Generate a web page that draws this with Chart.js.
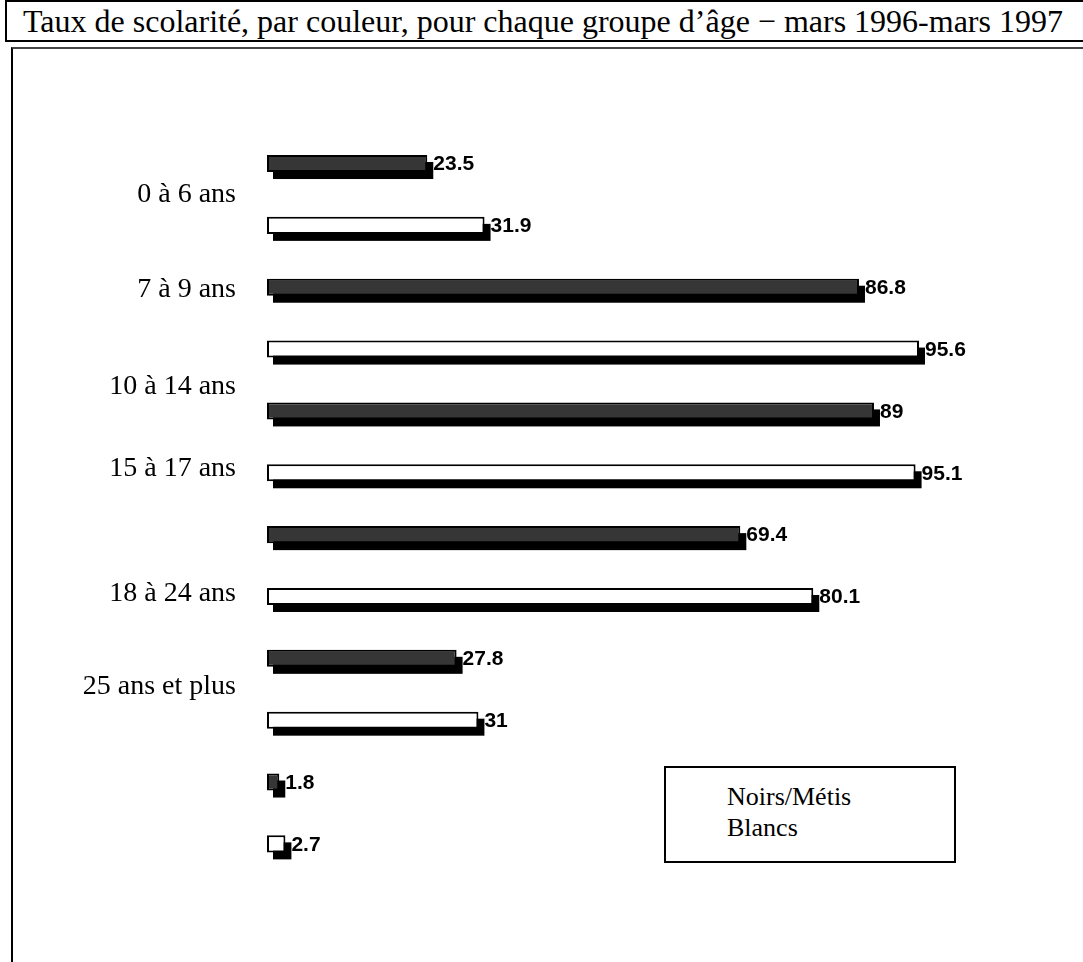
<!DOCTYPE html>
<html lang="fr">
<head>
<meta charset="utf-8">
<title>Taux de scolarité, par couleur</title>
<script src="https://cdn.jsdelivr.net/npm/chart.js@4.4.1/dist/chart.umd.min.js"></script>
<style>
  html, body { margin: 0; padding: 0; background: #fff; }
  body { position: relative; width: 1083px; height: 962px; overflow: hidden; }
  #titleBox {
    position: absolute; left: 5px; top: 0px; width: 1100px; height: 38px;
    border: 2px solid #000; box-sizing: content-box;
    display: flex; align-items: center; padding-left: 16px;
    font-family: "Liberation Serif", "Times New Roman", serif; font-size: 32px; color: #000;
    white-space: nowrap;
  }
  #frame {
    position: absolute; left: 11px; top: 47px; width: 1100px; height: 1000px;
    border-top: 2px solid #444; border-left: 2px solid #000;
  }
  #chart { position: absolute; left: 0; top: 0; }
  #legendBox {
    position: absolute; left: 664px; top: 766px; width: 292px; height: 97px;
    border: 2px solid #000; background: #fff;
    font-family: "Liberation Serif", "Times New Roman", serif; font-size: 26px; color: #000;
    padding: 13px 0 0 61px; box-sizing: border-box; line-height: 31px;
  }
</style>
</head>
<body>
<div id="titleBox">Taux de scolarité, par couleur, pour chaque groupe d’âge − mars 1996-mars 1997</div>
<div id="frame"></div>
<canvas id="chart" width="1083" height="962"></canvas>
<div id="legendBox"></div>
<script>
// Age groups and enrolment rates (%) by colour
const AGE_GROUPS = ['0 à 6 ans', '7 à 9 ans', '10 à 14 ans', '15 à 17 ans', '18 à 24 ans', '25 ans et plus'];
const SERIES_NAMES = ['Noirs/Métis', 'Blancs'];
const NOIRS_METIS = [23.5, 86.8, 89, 69.4, 27.8, 1.8];
const BLANCS = [31.9, 95.6, 95.1, 80.1, 31, 2.7];

// Where each group name sits along the vertical axis (in category units)
const LABEL_POS = [0, 0.77, 1.55, 2.22, 3.23, 3.975];

const SHADOW_DX = 6, SHADOW_DY = 7;

// Solid black drop shadow behind every bar
const dropShadow = {
  id: 'dropShadow',
  beforeDatasetsDraw(chart) {
    const ctx = chart.ctx;
    ctx.save();
    ctx.fillStyle = '#000';
    chart.data.datasets.forEach((ds, i) => {
      chart.getDatasetMeta(i).data.forEach(bar => {
        const { x, y, base, height } = bar.getProps(['x', 'y', 'base', 'height'], true);
        ctx.fillRect(Math.min(base, x) + SHADOW_DX, y - height / 2 + SHADOW_DY, Math.abs(x - base), height);
      });
    });
    ctx.restore();
  }
};

// Value printed just past the end of each bar
const valueLabels = {
  id: 'valueLabels',
  afterDatasetsDraw(chart) {
    const ctx = chart.ctx;
    ctx.save();
    ctx.font = 'bold 21px "Liberation Sans", Arial, sans-serif';
    ctx.fillStyle = '#000';
    ctx.textAlign = 'left';
    ctx.textBaseline = 'middle';
    chart.data.datasets.forEach((ds, i) => {
      chart.getDatasetMeta(i).data.forEach((bar, j) => {
        const { x, y } = bar.getProps(['x', 'y'], true);
        ctx.fillText(String(ds.data[j]), x + 6, y + 1);
      });
    });
    ctx.restore();
  }
};

const GROUP_MIN = -0.5, GROUP_MAX = AGE_GROUPS.length - 0.5;

const chart = new Chart(document.getElementById('chart'), {
  type: 'bar',
  data: {
    labels: AGE_GROUPS,
    datasets: [
      {
        label: SERIES_NAMES[0], data: NOIRS_METIS,
        backgroundColor: '#363636', borderColor: '#000', borderWidth: 2, borderSkipped: false,
        yAxisID: 'y'
      },
      {
        label: SERIES_NAMES[1], data: BLANCS,
        backgroundColor: '#fff', borderColor: '#000', borderWidth: 2, borderSkipped: false,
        yAxisID: 'y'
      }
    ]
  },
  options: {
    indexAxis: 'y',
    responsive: false,
    animation: false,
    devicePixelRatio: 1,
    categoryPercentage: 1,
    barPercentage: 0.275,
    layout: { padding: { left: 7, right: 134, top: 132.6, bottom: 87.2 } },
    plugins: { legend: { display: false }, tooltip: { enabled: false }, title: { display: false } },
    scales: {
      x: { display: false, min: 0, max: 100 },
      y: { type: 'category', display: false },
      groups: {
        type: 'linear', position: 'left', reverse: true, bounds: 'data', offset: false,
        min: GROUP_MIN, max: GROUP_MAX,
        grid: { display: false, drawTicks: false, drawOnChartArea: false, offset: false },
        border: { display: false },
        afterBuildTicks(scale) { scale.ticks = LABEL_POS.map(v => ({ value: v })); },
        afterFit(scale) { scale.width = 260; },
        ticks: {
          autoSkip: false,
          padding: 31,
          color: '#000',
          font: { family: '"Liberation Serif", "Times New Roman", serif', size: 28 },
          callback: (value, index) => AGE_GROUPS[index]
        }
      }
    }
  },
  plugins: [dropShadow, valueLabels]
});

// Text-only legend box listing the series
document.getElementById('legendBox').innerHTML =
  chart.data.datasets.map(ds => '<div>' + ds.label + '</div>').join('');
</script>
</body>
</html>
